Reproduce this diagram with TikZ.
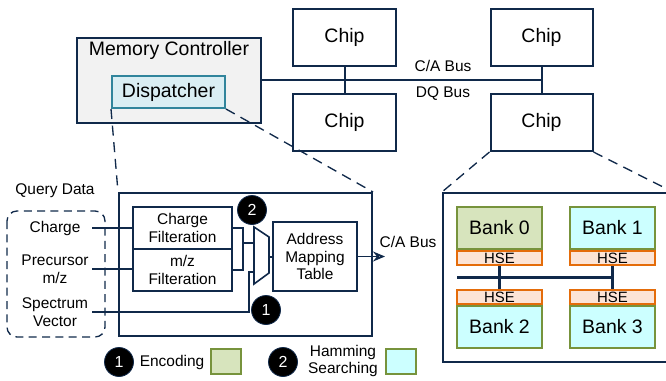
\documentclass[tikz,border=0pt]{standalone}
\usepackage{fontspec}
\setmainfont{Liberation Sans}
\usetikzlibrary{arrows.meta}

\definecolor{navy}{HTML}{10294A}
\definecolor{ctrlgray}{HTML}{F2F2F2}
\definecolor{dispfill}{HTML}{DAEEF3}
\definecolor{displine}{HTML}{31859C}
\definecolor{encfill}{HTML}{D7E4BD}
\definecolor{encline}{HTML}{77933C}
\definecolor{hamfill}{HTML}{CCFFFF}
\definecolor{hsefill}{HTML}{FCE4D6}
\definecolor{hseline}{HTML}{E46C0A}

\begin{document}
\begin{tikzpicture}[x=0.75pt, y=-0.75pt,
	every node/.style={font=\fontsize{11.6}{13.4}\selectfont, inner sep=0pt, align=center},
	big/.style={font=\fontsize{14.6}{17}\selectfont},
	box/.style={draw=navy, line width=1.5pt, fill=white},
	wire/.style={draw=navy, line width=1pt},
	zoomline/.style={draw=navy, line width=1pt, dash pattern=on 7.5pt off 5pt},
	num/.style={circle, fill=black, draw=navy, line width=0.6pt, text=white, minimum size=21.75pt, font=\fontsize{12}{14}\selectfont},
	bank/.style={draw=encline, line width=1.5pt, minimum width=63.75pt, minimum height=31.5pt, big},
	hse/.style={draw=hseline, fill=hsefill, line width=1.5pt, minimum width=63.75pt, minimum height=10.5pt, font=\fontsize{11.2}{12}\selectfont},
	query/.style={text width=55.5pt}]
	\clip (0,0) rectangle (666,381);

	% controller and chips
	\node[box, fill=ctrlgray, minimum width=138pt, minimum height=63.75pt] (mc) at (169,80.5) {};
	\node[big] (mctitle) at (169,50) {Memory Controller};
	\node[draw=displine, fill=dispfill, line width=1.5pt, minimum width=84.75pt, minimum height=24pt, big] (disp) at (168.5,92) {Dispatcher};
	\node[box, minimum width=77.25pt, minimum height=42.75pt, big] (chipA) at (344.5,37.5) {Chip};
	\node[box, minimum width=77.25pt, minimum height=42.75pt, big] (chipB) at (344.5,122.5) {Chip};
	\node[box, minimum width=76.5pt, minimum height=42.75pt, big] (chipC) at (541.5,37.5) {Chip};
	\node[box, minimum width=76.5pt, minimum height=42.75pt, big] (chipD) at (541.5,122.5) {Chip};
	\draw[wire, line width=1.5pt] (mc.east) -- (mc.east -| chipC.south);
	\draw[wire, line width=1.5pt] (chipA.south) -- (chipB.north);
	\draw[wire, line width=1.5pt] (chipC.south) -- (chipD.north);
	\node (cabus) at (443,66) {C/A Bus};
	\node (dqbus) at (443,94) {DQ Bus};

	% dispatcher detail
	\node[box, minimum width=189.75pt, minimum height=107.25pt] (detail) at (245.5,264.5) {};
	\draw[zoomline] (disp.south west) -- (detail.north west);
	\draw[zoomline] (disp.south east) -- (detail.north east);

	\node (qd) at (55,191) {Query Data};
	\draw[navy, line width=1pt, dash pattern=on 6pt off 4pt, rounded corners=7.5pt] (7,211) rectangle (105,337);
	\node[query] (chg) at (55,228) {Charge};
	\node[query] (pmz) at (55,269) {Precursor\\m/z};
	\node[query] (spv) at (55,312) {Spectrum\\Vector};

	\node[box, line width=1.2pt, minimum width=74.25pt, minimum height=31.5pt] (chf) at (182.5,228) {Charge\\Filteration};
	\node[box, line width=1.2pt, minimum width=74.25pt, minimum height=31.5pt] (mzf) at (182.5,270) {m/z\\Filteration};
	\node[box, line width=1.2pt, minimum width=63pt, minimum height=51.75pt] (amt) at (315,256.5) {Address\\Mapping\\Table};

	\draw[box, line width=1.2pt] (254,227) -- (269,237) -- (269,273) -- (254,284) -- cycle;
	\coordinate (muxa) at (254,243);
	\coordinate (muxb) at (254,272);
	\coordinate (muxo) at (269,257);
	\coordinate (jflt) at (243,243);
	\coordinate (jspv) at (249,272);

	\draw[wire] (chg.east) -- (chf.west);
	\draw[wire] (pmz.east) -- (mzf.west |- pmz.east);
	\draw[wire] (spv.east) -| (jspv) -- (muxb);
	\draw[wire] (chf.east) -| (jflt) -- (muxa);
	\draw[wire] (mzf.east) -| (jflt);
	\draw[wire] (muxo) -- (muxo -| amt.west);
	\coordinate (caend) at (385,256.5);
	\draw[wire, line width=1.3pt, -{Stealth[length=9pt, width=7.5pt, open]}] (amt.east) -- (caend);
	\node (calabel) at (408,242) {C/A Bus};

	\node[num] (n2) at (252,210) {2};
	\node[num] (n1) at (266,310) {1};

	% banks inside the chip
	\node[box, minimum width=171.75pt, minimum height=126.75pt] (chipin) at (557.5,277.5) {};
	\draw[zoomline] (chipD.south west) -- (chipin.north west);
	\draw[zoomline] (chipD.south east) -- (chipin.north east);

	\node[bank, fill=encfill] (b0) at (499.5,228) {Bank 0};
	\node[bank, fill=hamfill] (b1) at (612.5,228) {Bank 1};
	\node[bank, fill=hamfill] (b2) at (499.5,327) {Bank 2};
	\node[bank, fill=hamfill] (b3) at (612.5,327) {Bank 3};
	\node[hse, anchor=north] (hse0) at (b0.south) {HSE};
	\node[hse, anchor=north] (hse1) at (b1.south) {HSE};
	\node[hse, anchor=south] (hse2) at (b2.north) {HSE};
	\node[hse, anchor=south] (hse3) at (b3.north) {HSE};
	\coordinate (bbus) at (457,277);
	\draw[wire, line width=2.25pt] (bbus) -- (bbus -| hse1.south);
	\draw[wire, line width=2.25pt] (hse0.south) -- (hse2.north);
	\draw[wire, line width=2.25pt] (hse1.south) -- (hse3.north);

	% legend
	\node[num] (l1) at (119,362) {1};
	\node (enc) at (172,362) {Encoding};
	\node[draw=encline, fill=encfill, line width=1.5pt, minimum width=22.5pt, minimum height=18.75pt] (encsq) at (226,361.5) {};
	\node[num] (l2) at (283,362) {2};
	\node (ham) at (343,361) {Hamming\\Searching};
	\node[draw=encline, fill=hamfill, line width=1.5pt, minimum width=22.5pt, minimum height=18.75pt] (hamsq) at (401,361.5) {};
\end{tikzpicture}
\end{document}
